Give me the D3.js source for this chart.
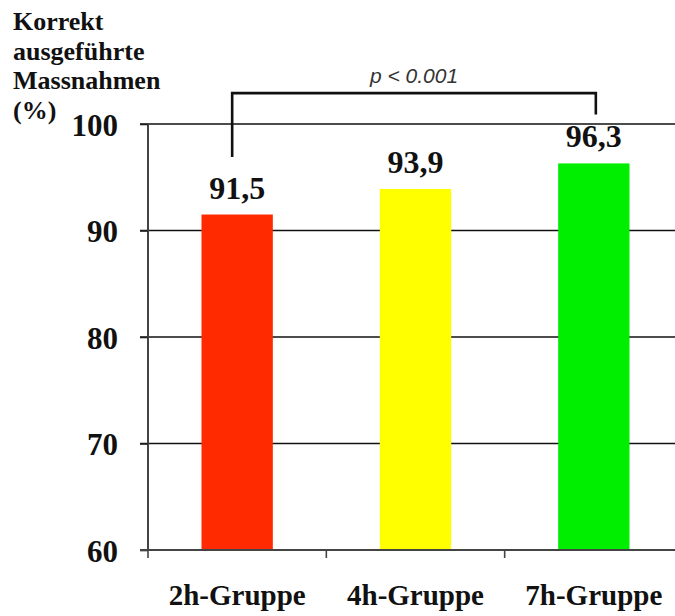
<!DOCTYPE html>
<html>
<head>
<meta charset="utf-8">
<script src="https://cdn.jsdelivr.net/npm/d3@7"></script>
<style>
  html, body { margin: 0; padding: 0; background: #fff; }
  svg { display: block; }
</style>
</head>
<body>
<div id="chart"></div>
<script>
// Correctly performed measures per training group
const groups = ["2h-Gruppe", "4h-Gruppe", "7h-Gruppe"];
const values = [91.5, 93.9, 96.3];
const barColors = ["#ff2a00", "#ffff00", "#00ee00"];
const yTicks = [60, 70, 80, 90, 100];
const titleLines = ["Korrekt", "ausgeführte", "Massnahmen", "(%)"];
const pLabel = "p < 0.001";

const W = 675, H = 616;
const svg = d3.select("#chart").append("svg")
  .attr("width", W).attr("height", H);

const x = d3.scaleBand().domain(groups).range([148, 683]).padding(0);
const y = d3.scaleLinear().domain([60, 100]).range([550, 124]);
const barW = x.bandwidth() * 0.4;
const serif = "'Liberation Serif', 'Times New Roman', serif";

// horizontal gridlines
svg.append("g").selectAll("line").data(yTicks.filter(d => d > 60)).join("line")
  .attr("x1", 140).attr("x2", W)
  .attr("y1", d => y(d)).attr("y2", d => y(d))
  .attr("stroke", "#111").attr("stroke-width", 1.6);

// bars
svg.append("g").selectAll("rect").data(groups).join("rect")
  .attr("x", (d) => x(d) + (x.bandwidth() - barW) / 2)
  .attr("width", barW)
  .attr("y", (d, i) => y(values[i]))
  .attr("height", (d, i) => y(60) - y(values[i]))
  .attr("fill", (d, i) => barColors[i]);

// y axis
const yAxis = svg.append("g").attr("transform", "translate(148,0)")
  .call(d3.axisLeft(y).tickValues(yTicks).tickSize(8).tickPadding(22));
yAxis.select(".domain").attr("stroke", "#444").attr("stroke-width", 2)
  .attr("d", `M0,${y(100)}V${y(60)}`);
yAxis.selectAll(".tick line").attr("stroke", "#222").attr("stroke-width", 1.6);
yAxis.selectAll(".tick text")
  .attr("font-family", serif).attr("font-weight", "bold")
  .attr("font-size", 31).attr("fill", "#111").attr("dy", "0.36em");

// x axis baseline with band separators
const xAxisG = svg.append("g").attr("transform", `translate(0,${y(60)})`);
xAxisG.append("line").attr("x1", 140).attr("x2", W)
  .attr("stroke", "#444").attr("stroke-width", 2);
xAxisG.selectAll("line.sep").data(groups).join("line").attr("class", "sep")
  .attr("x1", d => x(d)).attr("x2", d => x(d))
  .attr("y1", 0).attr("y2", 8)
  .attr("stroke", "#444").attr("stroke-width", 1.6);
xAxisG.selectAll("text").data(groups).join("text")
  .attr("x", d => x(d) + x.bandwidth() / 2)
  .attr("y", 55)
  .attr("text-anchor", "middle")
  .attr("font-family", serif).attr("font-weight", "bold")
  .attr("font-size", 29).attr("fill", "#111")
  .text(d => d);

// value labels above bars
svg.append("g").selectAll("text").data(groups).join("text")
  .attr("x", d => x(d) + x.bandwidth() / 2)
  .attr("y", (d, i) => y(values[i]) - 16)
  .attr("text-anchor", "middle")
  .attr("font-family", serif).attr("font-weight", "bold")
  .attr("font-size", 32).attr("fill", "#111")
  .text((d, i) => values[i].toFixed(1).replace(".", ","));

// axis title
svg.append("text")
  .attr("font-family", serif).attr("font-weight", "bold")
  .attr("font-size", 26).attr("fill", "#111")
  .selectAll("tspan").data(titleLines).join("tspan")
  .attr("x", 13).attr("y", (d, i) => 30 + i * 29.5)
  .text(d => d);

// significance bracket between first and last group
const cx0 = x(groups[0]) + x.bandwidth() / 2 - 5;
const cx2 = x(groups[2]) + x.bandwidth() / 2 + 2;
const yTop = y(102.9);
svg.append("path")
  .attr("d", `M${cx0},${y(96.9)}V${yTop}H${cx2}V${y(100.9)}`)
  .attr("fill", "none").attr("stroke", "#111").attr("stroke-width", 2.6);
svg.append("text")
  .attr("x", (cx0 + cx2) / 2).attr("y", yTop - 10)
  .attr("text-anchor", "middle")
  .attr("font-family", "'Liberation Sans', Arial, sans-serif")
  .attr("font-style", "italic").attr("font-size", 21).attr("fill", "#333")
  .text(pLabel);
</script>
</body>
</html>
